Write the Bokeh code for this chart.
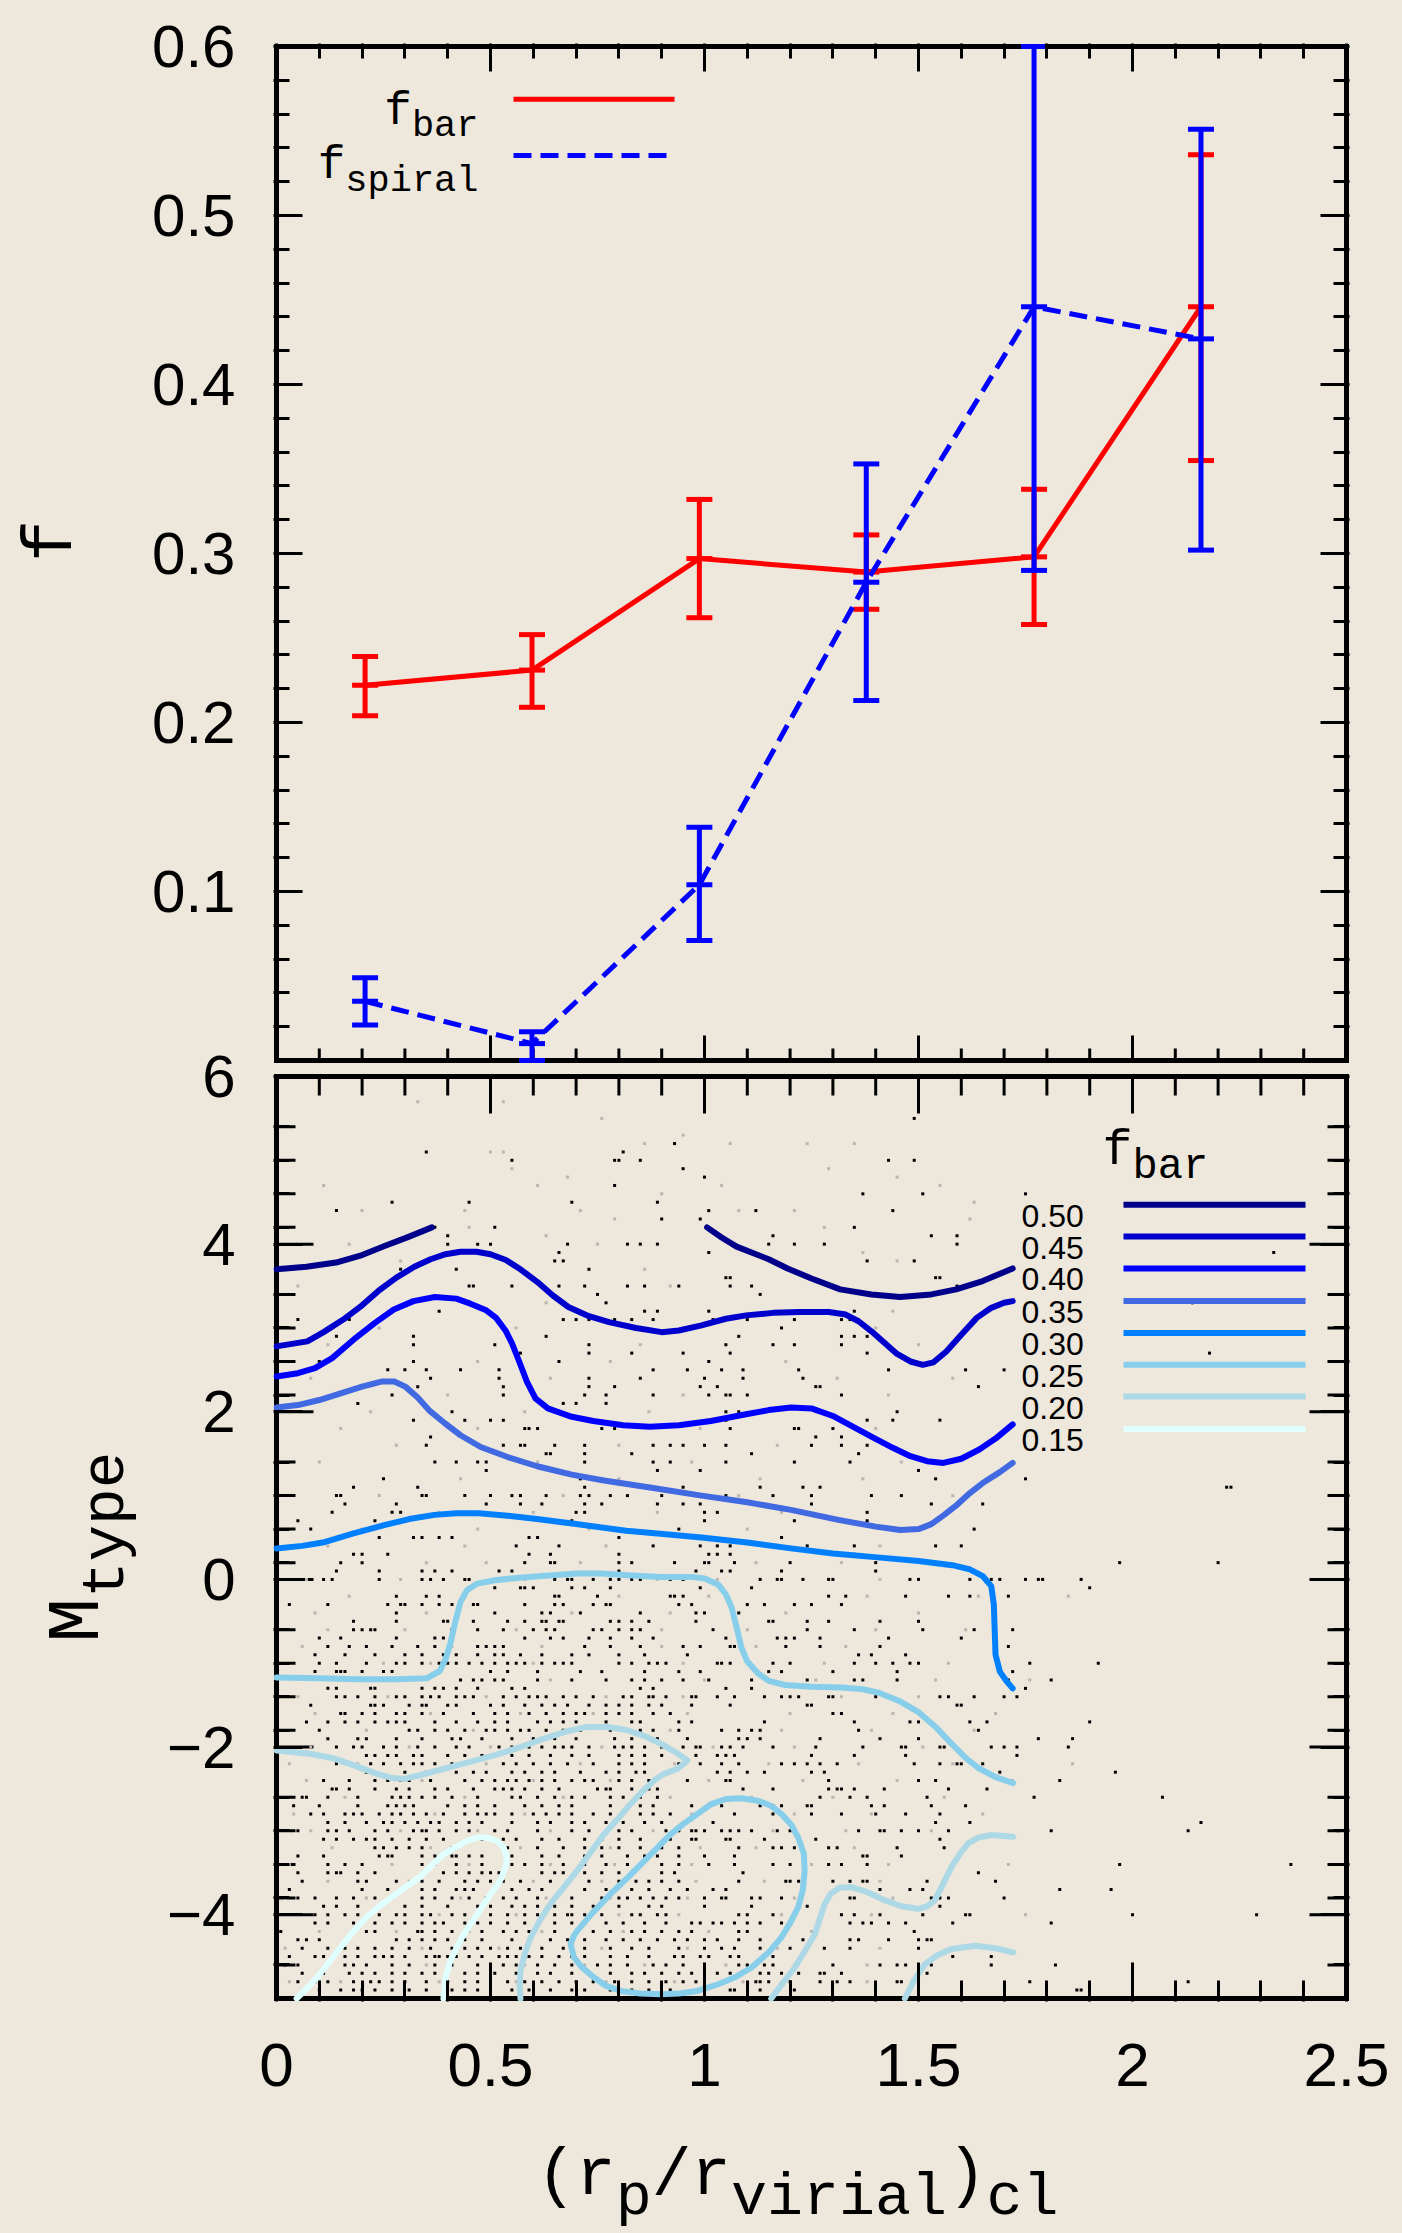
import math
from bokeh.plotting import figure
from bokeh.layouts import row, column
from bokeh.models import Range1d, LinearAxis, FixedTicker, CustomJSTickFormatter, Label
from bokeh.core.properties import value
from bokeh.embed import file_html
from bokeh.resources import INLINE

# ------------------------------------------------------------------ data
# top panel: fractions vs projected cluster-centric radius
R_BINS = [0.207, 0.597, 0.988, 1.378, 1.770, 2.160]
F_BAR = [0.222, 0.231, 0.297, 0.289, 0.298, 0.446]
F_BAR_LO = [0.204, 0.209, 0.262, 0.267, 0.258, 0.355]
F_BAR_HI = [0.239, 0.252, 0.332, 0.311, 0.338, 0.536]
F_SPIRAL = [0.035, 0.010, 0.104, 0.283, 0.446, 0.427]
F_SPIRAL_LO = [0.021, 0.000, 0.071, 0.213, 0.290, 0.302]
F_SPIRAL_HI = [0.049, 0.017, 0.138, 0.353, 0.600, 0.551]

TOP_Y_TICKS = [0.1, 0.2, 0.3, 0.4, 0.5, 0.6]
TOP_Y_LABELS = ["0.1", "0.2", "0.3", "0.4", "0.5", "0.6"]
BOT_Y_TICKS = [-4, -2, 0, 2, 4, 6]
BOT_Y_LABELS = ["\u22124", "\u22122", "0", "2", "4", "6"]
X_TICKS = [0, 0.5, 1, 1.5, 2, 2.5]
X_LABELS = ["0", "0.5", "1", "1.5", "2", "2.5"]

# bottom panel: f_bar contours in the (r, M_type) plane
LEVELS = ["0.50", "0.45", "0.40", "0.35", "0.30", "0.25", "0.20", "0.15"]
LEVEL_COLORS = ["#00008B", "#0000CD", "#0000FF", "#4169E1", "#0080FF", "#87CEEB", "#ADD8E6", "#E0FFFF"]
CONTOURS = {
    "0.50": [
        [(0.000, 3.70), (0.070, 3.73), (0.139, 3.78), (0.200, 3.87), (0.254, 3.98), (0.310, 4.09), (0.363, 4.20)],
        [(1.006, 4.20), (1.040, 4.08), (1.075, 3.97), (1.150, 3.82), (1.194, 3.71), (1.250, 3.59), (1.317, 3.46),
         (1.390, 3.40), (1.457, 3.37), (1.530, 3.40), (1.588, 3.46), (1.650, 3.56), (1.720, 3.71)],
    ],
    "0.45": [
        [(0.000, 2.78), (0.072, 2.84), (0.110, 2.95), (0.156, 3.10), (0.200, 3.27), (0.240, 3.45), (0.280, 3.60),
         (0.322, 3.73), (0.360, 3.82), (0.395, 3.88), (0.430, 3.91), (0.467, 3.91), (0.500, 3.88), (0.536, 3.81),
         (0.570, 3.70), (0.609, 3.55), (0.645, 3.39), (0.682, 3.25), (0.730, 3.14), (0.777, 3.07), (0.840, 3.00),
         (0.900, 2.95), (0.940, 2.97), (0.993, 3.03), (1.050, 3.11), (1.097, 3.15), (1.160, 3.18), (1.223, 3.19),
         (1.290, 3.19), (1.330, 3.16), (1.360, 3.08), (1.390, 2.96), (1.421, 2.82), (1.450, 2.69), (1.481, 2.60),
         (1.510, 2.56), (1.535, 2.59), (1.565, 2.72), (1.600, 2.92), (1.636, 3.12), (1.670, 3.24), (1.700, 3.30),
         (1.720, 3.32)],
    ],
    "0.40": [
        [(0.000, 2.42), (0.050, 2.46), (0.090, 2.52), (0.130, 2.64), (0.180, 2.86), (0.230, 3.06), (0.274, 3.22),
         (0.320, 3.32), (0.370, 3.37), (0.420, 3.35), (0.453, 3.29), (0.490, 3.21), (0.513, 3.12), (0.535, 2.97),
         (0.550, 2.82), (0.567, 2.60), (0.585, 2.36), (0.605, 2.16), (0.634, 2.04), (0.690, 1.94), (0.740, 1.89),
         (0.810, 1.84), (0.872, 1.82), (0.940, 1.84), (1.015, 1.89), (1.097, 1.97), (1.150, 2.02), (1.202, 2.05),
         (1.250, 2.04), (1.300, 1.95), (1.340, 1.84), (1.391, 1.70), (1.440, 1.57), (1.481, 1.47), (1.520, 1.41),
         (1.558, 1.39), (1.600, 1.44), (1.642, 1.55), (1.680, 1.68), (1.720, 1.85)],
    ],
    "0.35": [
        [(0.000, 2.05), (0.050, 2.08), (0.100, 2.14), (0.150, 2.22), (0.200, 2.30), (0.245, 2.36), (0.275, 2.36),
         (0.301, 2.30), (0.330, 2.17), (0.358, 2.01), (0.394, 1.86), (0.430, 1.72), (0.477, 1.58), (0.540, 1.46),
         (0.609, 1.35), (0.690, 1.25), (0.765, 1.18), (0.880, 1.09), (0.993, 1.00), (1.100, 0.92), (1.202, 0.83),
         (1.313, 0.71), (1.400, 0.63), (1.457, 0.59), (1.500, 0.60), (1.530, 0.66), (1.560, 0.77), (1.590, 0.89),
         (1.620, 1.03), (1.650, 1.15), (1.690, 1.28), (1.720, 1.39)],
    ],
    "0.30": [
        [(0.000, 0.37), (0.060, 0.40), (0.108, 0.44), (0.180, 0.55), (0.254, 0.65), (0.310, 0.72), (0.369, 0.77),
         (0.420, 0.79), (0.473, 0.79), (0.540, 0.76), (0.609, 0.72), (0.700, 0.66), (0.817, 0.58), (0.910, 0.54),
         (0.993, 0.50), (1.100, 0.44), (1.202, 0.37), (1.300, 0.31), (1.411, 0.26), (1.500, 0.22), (1.579, 0.17),
         (1.620, 0.12), (1.650, 0.04), (1.670, -0.08), (1.676, -0.30), (1.678, -0.60), (1.680, -0.90),
         (1.690, -1.10), (1.705, -1.21), (1.720, -1.30)],
    ],
    "0.25": [
        [(0.000, -1.17), (0.100, -1.18), (0.191, -1.19), (0.280, -1.19), (0.351, -1.18), (0.382, -1.09),
         (0.395, -0.95), (0.406, -0.77), (0.418, -0.50), (0.430, -0.27), (0.445, -0.13), (0.469, -0.05),
         (0.510, -0.01), (0.547, 0.01), (0.620, 0.04), (0.703, 0.07), (0.760, 0.07), (0.820, 0.05), (0.900, 0.03),
         (0.969, 0.03), (1.000, 0.01), (1.032, -0.06), (1.050, -0.18), (1.063, -0.33), (1.075, -0.57),
         (1.086, -0.81), (1.100, -0.98), (1.125, -1.12), (1.150, -1.21), (1.188, -1.26), (1.250, -1.28),
         (1.320, -1.29), (1.370, -1.31), (1.406, -1.35), (1.455, -1.45), (1.499, -1.58), (1.540, -1.76),
         (1.577, -1.96), (1.610, -2.13), (1.640, -2.25), (1.680, -2.36), (1.721, -2.43)],
        [(0.983, -2.80), (1.016, -2.68), (1.050, -2.62), (1.086, -2.61), (1.125, -2.64), (1.155, -2.70),
         (1.180, -2.80), (1.203, -2.93), (1.219, -3.08), (1.232, -3.27), (1.234, -3.47), (1.230, -3.70),
         (1.219, -3.91), (1.200, -4.10), (1.180, -4.27), (1.150, -4.45), (1.110, -4.63), (1.070, -4.75),
         (1.032, -4.83), (0.983, -4.91), (0.940, -4.94), (0.898, -4.95), (0.850, -4.94), (0.804, -4.91),
         (0.770, -4.85), (0.742, -4.75), (0.712, -4.62), (0.695, -4.51), (0.687, -4.35), (0.695, -4.25),
         (0.703, -4.19), (0.740, -3.97), (0.781, -3.75), (0.820, -3.56), (0.859, -3.36), (0.890, -3.20),
         (0.921, -3.04), (0.950, -2.92), (0.983, -2.80)],
    ],
    "0.20": [
        [(0.000, -2.04), (0.078, -2.08), (0.130, -2.13), (0.171, -2.20), (0.235, -2.32), (0.270, -2.37),
         (0.298, -2.38), (0.340, -2.33), (0.390, -2.26), (0.450, -2.18), (0.508, -2.10), (0.570, -2.00),
         (0.625, -1.90), (0.680, -1.81), (0.726, -1.76), (0.775, -1.76), (0.820, -1.80), (0.860, -1.87),
         (0.898, -1.96), (0.935, -2.07), (0.960, -2.16), (0.937, -2.26), (0.905, -2.32), (0.882, -2.40),
         (0.855, -2.53), (0.827, -2.68), (0.797, -2.86), (0.765, -3.04), (0.735, -3.25), (0.703, -3.47),
         (0.670, -3.68), (0.640, -3.87), (0.615, -4.07), (0.594, -4.27), (0.580, -4.47), (0.570, -4.67),
         (0.568, -4.85), (0.570, -5.00)],
        [(1.156, -5.00), (1.185, -4.80), (1.211, -4.63), (1.235, -4.43), (1.258, -4.23), (1.270, -4.04),
         (1.281, -3.87), (1.295, -3.75), (1.315, -3.68), (1.343, -3.67), (1.380, -3.73), (1.422, -3.83),
         (1.460, -3.90), (1.499, -3.93), (1.520, -3.90), (1.538, -3.83), (1.555, -3.66), (1.577, -3.43),
         (1.600, -3.25), (1.616, -3.15), (1.640, -3.08), (1.671, -3.05), (1.721, -3.07)],
        [(1.468, -5.00), (1.490, -4.78), (1.515, -4.59), (1.545, -4.48), (1.577, -4.41), (1.632, -4.37),
         (1.680, -4.40), (1.721, -4.45)],
    ],
    "0.15": [
        [(0.047, -5.00), (0.075, -4.86), (0.101, -4.71), (0.130, -4.52), (0.156, -4.35), (0.185, -4.17),
         (0.210, -4.03), (0.245, -3.88), (0.280, -3.75), (0.335, -3.55), (0.390, -3.28), (0.420, -3.19),
         (0.445, -3.12), (0.470, -3.08), (0.491, -3.08), (0.515, -3.12), (0.531, -3.20), (0.538, -3.32),
         (0.535, -3.43), (0.523, -3.59), (0.505, -3.72), (0.485, -3.87), (0.462, -4.05), (0.438, -4.23),
         (0.420, -4.40), (0.406, -4.55), (0.395, -4.75), (0.390, -5.00)],
    ],
}

# galaxies in the (r, M_type) plane: M_type row -> r values in hundredths
BLACK_DOTS = {
    5.5: "149", 5.2: "93", 5.1: "35 81", 5.0: "55 79 80 85 143 149", 4.9: "95", 4.8: "100", 4.7: "79",
    4.6: "137 151 175", 4.5: "27 45 69 89", 4.4: "14 101 112 144", 4.3: "90 99", 4.2: "37 51 135",
    4.1: "40 116 153 159", 4.0: "40 47 50 68 82 85 89 115 121 128 159", 3.9: "66 101 233", 3.8: "65 67 138 149",
    3.7: "29 42 73", 3.6: "105 106 154 155", 3.5: "45 46 55 66 72 82 86 94 106 111 159", 3.4: "75 113",
    3.3: "77 214", 3.2: "38 86 89 101 135", 3.1: "5 17 67 70 73 79 83 88 102 110 121 132 134", 3.0: "118",
    2.9: "14 32 63 108 132 135 138", 2.8: "32 51 73 105 116 121 132", 2.7: "57 73 83 95 106 138 218",
    2.6: "10 32 66 101", 2.5: "26 30 35 43 52 88 96 104 109 122 143 161 170", 2.4: "36 52 73 85 100 109 123",
    2.3: "33 53 73 79 99 103 126 127 164", 2.2: "27 53 72 77 88 101 105 106 110 132", 2.1: "19 67 70 77",
    2.0: "41 105 108 145", 1.9: "32 44 50 53 101 105 138 144 155", 1.8: "58 59 61 76 79 106 121 122 130",
    1.7: "36 126 132", 1.6: "35 53 57 58 65 72 88 92 95 100 105 125 132 138", 1.5: "63 64 72 83 111 136",
    1.4: "37 42 47 49 72 88 92 105 121 134", 1.3: "49 89 99 150", 1.2: "25 71 154 175",
    1.1: "18 33 72 88 95 113 123 127 222 223",
    1.0: "14 15 34 35 44 50 55 57 63 71 73 78 82 90 98 105 116 125 139 146",
    0.9: "16 28 49 57 62 72 76 89 95 99 125 153 165", 0.8: "13 27 29 70 72 100 103 138",
    0.7: "5 23 69 100 121 138", 0.6: "8 94 163", 0.5: "24 32 34 38 41 59 61 80 118",
    0.4: "56 66 88 99 103 106 124 135 154 160", 0.3: "18 20 26 59 64 80 101 103 106 135",
    0.2: "15 20 58 64 65 80 83 93 100 101 107 120 140 197 220",
    0.1: "14 24 34 37 41 52 55 80 98 104 106 118 140",
    0.0: "11 13 24 34 36 39 44 45 52 54 65 68 69 74 78 80 83 85 92 95 113 117 118 123 129 130 148 150 162 167 169 175 178 179 188",
    -0.1: "51 57 58 60 69 72 78 99 111 190",
    -0.2: "28 35 38 65 66 75 92 93 95 129 133 147 157 162 171",
    -0.3: "3 12 26 29 30 34 38 41 46 47 58 65 67 74 77 78 94 97 110 114 121 125 132",
    -0.4: "28 51 62 64 71 85 98 100 108",
    -0.5: "18 28 39 40 46 54 58 62 63 66 67 78 80 83 87 98 115 116 124 129 141 150",
    -0.6: "18 20 22 23 41 47 53 60 63 65 74 76 80 83 85 102 124 135 151 163 172",
    -0.7: "10 15 28 37 39 58 64 67 73 78 83 88 105 117 119 121 127 143 160",
    -0.8: "12 17 21 27 33 37 47 49 51 53 72 78 85 95 99 106 107 119 127 141 171",
    -0.9: "9 16 23 30 34 39 42 47 51 53 57 62 69 73 80 86 96 136 139 147",
    -1.0: "10 14 21 28 30 34 38 40 42 45 48 51 54 56 58 62 65 67 69 80 83 87 89 91 103 104 106 116 120 135 140 144 148 150 176 192",
    -1.1: "9 14 15 16 20 25 27 50 54 61 71 76 86 94 99 115 118 130 145 172",
    -1.2: "43 46 48 51 53 61 69 77 83 86 90 95 101 111 124 135 137 145 171 181",
    -1.3: "12 14 22 23 34 37 39 42 47 55 58 85 88 105 111 175",
    -1.4: "14 16 19 23 28 30 34 36 38 42 44 46 53 56 59 61 63 67 70 74 81 83 87 88 91 97 98 103 107 114 118 120 122 129 130 140 155 157 163 170 173",
    -1.5: "8 22 23 25 31 34 35 40 42 50 53 58 62 65 68 73 77 80 83 87 90 97 106 124 125 159 160",
    -1.6: "15 16 20 23 28 30 34 39 46 51 54 59 63 67 70 72 77 80 83 88 92 130 132",
    -1.7: "7 12 16 19 23 26 28 30 37 42 47 51 54 61 64 67 70 77 83 85 94 97 114 135 148 150 162 166 190",
    -1.8: "10 31 33 37 40 44 49 51 54 57 59 63 67 71 78 81 85 88 94 104 108 111 113 136 164",
    -1.9: "12 19 21 28 34 41 43 48 55 60 65 70 79 83 87 89 96 108 110 113 127 141 150 178 186",
    -2.0: "14 18 20 25 28 33 37 42 45 52 55 59 62 65 67 69 73 79 81 83 86 90 95 98 99 104 106 109 116 126 137 146 147 155 156 167 170 173 185",
    -2.1: "21 23 26 28 32 34 40 44 48 55 59 64 69 73 80 83 86 90 98 103 105 107 125 135 147 173",
    -2.2: "14 22 25 29 32 34 37 41 44 53 56 60 64 68 74 80 83 86 94 99 104 108 118 121 124 127 131 149 155 159 160 165",
    -2.3: "21 30 35 42 46 49 55 58 62 65 71 77 80 84 86 103 106 110 114 125 128 169 196",
    -2.4: "11 17 23 26 29 31 36 44 48 51 54 56 59 62 65 69 72 74 80 83 87 96 105 106 129 150 154 183",
    -2.5: "13 14 17 23 28 31 37 40 46 51 53 55 58 62 66 75 77 78 83 87 89 109 116 129 131 132 135 142 157 166",
    -2.6: "6 7 12 19 27 29 31 34 37 41 47 55 57 61 65 69 72 78 81 85 89 127 134 138 152 177 207",
    -2.7: "4 10 19 26 28 30 32 40 44 47 51 58 62 66 69 78 82 85 88 97 104 113 116 118 124 125 139 142 153 161",
    -2.8: "8 11 16 18 20 24 27 29 32 35 39 44 47 49 51 55 60 63 66 69 74 78 85 88 92 107 116 125 132 140 147 155",
    -2.9: "12 16 21 25 27 30 33 36 38 42 45 48 55 61 64 69 72 77 81 86 90 102 154 162 216",
    -3.0: "5 12 14 17 23 26 32 34 35 38 42 45 51 54 61 69 73 80 83 91 94 97 98 100 104 106 108 111 117 120 136 141 142 146 150 157 181 213 248",
    -3.1: "11 14 18 21 23 27 31 35 39 48 53 56 62 66 72 76 80 85 92 97 98 105 106 114 126 155",
    -3.2: "23 25 28 31 34 41 42 54 61 67 72 76 80 85 90 94 108 116 118 121 129 131 145 156",
    -3.3: "5 11 24 26 27 34 37 41 42 45 48 55 62 66 72 76 82 86 89 94 100 107 137 138 146",
    -3.4: "12 16 20 34 37 42 48 55 58 62 67 72 77 82 85 90 94 101 107 116 120 129 132 138 197 237",
    -3.5: "5 12 14 15 19 23 39 42 45 48 50 52 62 65 67 72 76 80 83 90 93 109 164",
    -3.6: "6 19 21 28 34 38 44 47 50 53 57 64 68 73 80 84 87 90 94 108 119 120 122 130 134 137 138 152 168",
    -3.7: "3 20 26 34 37 42 44 46 51 55 59 62 72 77 83 87 92 96 102 105 141 148 151 183 195",
    -3.8: "5 9 14 18 23 27 34 37 41 45 49 53 56 61 65 69 76 80 82 85 88 91 94 100 104 105 111 113 118 134 135 153 155 157 170",
    -3.9: "11 14 19 24 30 34 40 47 50 55 58 61 65 69 74 80 87 90 100 111 124 155",
    -4.0: "9 12 16 19 24 28 30 34 36 41 44 47 50 54 58 61 65 68 69 72 76 83 85 89 91 108 110 116 132 135 141 151 161 162 200 229",
    -4.1: "9 12 18 23 27 30 34 37 39 44 47 50 54 58 61 65 69 72 77 81 86 91 97 99 102 104 107 110 113 118 134 137 139 143 147 158 181",
    -4.2: "1 21 23 33 34 37 41 44 48 53 56 59 65 70 74 78 83 86 90 94 97 108 110 149",
    -4.3: "5 7 10 28 31 34 37 40 44 48 55 59 64 68 72 77 81 85 89 93 96 100 103 108 113 123 134 136 143 150 152 153",
    -4.4: "6 12 16 19 23 27 31 36 41 44 47 50 54 57 62 67 72 78 83 87 94 100 104 107 113 120 128 134 150",
    -4.5: "3 9 11 16 19 23 25 27 30 35 37 38 40 42 45 48 52 54 56 59 62 66 69 72 78 82 87 93 95 99 101 106 108 116 158 167",
    -4.6: "2 5 16 18 21 27 31 37 41 47 50 53 56 61 65 69 75 78 82 88 91 95 108 110 114 116 130 141 145 147 153 167 182",
    -4.7: "6 11 17 20 23 27 30 34 37 44 47 51 56 61 64 69 73 78 83 86 90 94 97 103 106 113 115 118 122 127 128 132 152",
    -4.8: "5 9 12 18 22 24 27 30 35 40 44 47 50 54 58 62 66 70 74 79 83 87 91 95 98 112 113 115 120 127 131 134 145 146 176 213",
    -4.9: "10 15 18 20 23 27 31 35 41 44 47 50 55 59 64 69 72 78 83 87 92 106 107 113 121 187 188",
}
GRAY_DOTS = {
    5.7: "33 53", 5.5: "76", 5.3: "95", 5.2: "86 106 124 135", 5.1: "50 53", 4.9: "55 129", 4.8: "68 145",
    4.7: "11 61 104 155", 4.6: "90", 4.5: "163", 4.4: "20 44 71 108 121", 4.3: "79 162", 4.2: "45 128",
    4.1: "63", 4.0: "17 75", 3.9: "137", 3.8: "29 145", 3.7: "86", 3.5: "5 92", 3.3: "21 63", 3.2: "144",
    3.0: "24 56 97 140", 2.8: "12 85 150", 2.6: "47 78 119", 2.4: "8 64 131 158", 2.2: "40 95 143",
    2.0: "22 58 87 126", 1.8: "15 47 99 140", 1.6: "28 80 117", 1.4: "10 61 97 146", 1.2: "43 80 113 137",
    1.0: "24 67 108 158", 0.8: "38 60 89 118", 0.6: "20 47 73 110 146", 0.4: "12 44 77 114 141",
    0.2: "35 49 71 112 132", 0.0: "7 29 58 89 103 141", -0.2: "17 44 80 101 138 164 185",
    -0.4: "9 35 69 92 119 150", -0.6: "12 30 56 90 110 140 161", -0.8: "6 41 62 90 112 133",
    -1.0: "25 36 60 95 128 157", -1.2: "18 32 64 100 126 154 176", -1.4: "5 26 49 77 95 132 150",
    -1.6: "9 36 57 74 96 120 144 168", -1.8: "21 46 69 92 118 139 163", -2.0: "8 31 50 76 102 121 151",
    -2.2: "3 19 49 71 93 115 136 158 186", -2.4: "7 34 60 78 101 123 145 172", -2.6: "16 44 67 92 111 130 156",
    -2.8: "4 37 58 81 97 121 139 165", -3.0: "8 29 47 64 88 116 133 153", -3.2: "13 36 57 78 99 112 135 161",
    -3.4: "3 27 45 64 79 97 125 143 171", -3.6: "12 31 60 76 98 114 141", -3.8: "2 21 43 63 78 96 121 144",
    -4.0: "5 22 38 56 80 94 118 139 175", -4.2: "10 28 45 62 81 101 125", -4.4: "2 34 52 76 96 117 141",
    -4.6: "12 35 58 72 86 105 121 138", -4.8: "3 15 38 56 77 93 109 138",
}

# ------------------------------------------------------------------ layout (page pixels)
W, H = 1402, 2233
BG = "#EDE7DC"
LW = 145                      # left strip holding the y titles
HM = 2115                     # height of the main figure; below it a strip for the x title
FL, FR = 276, 1346            # panel left / right edges
TT, TB = 46, 1060             # top panel top / bottom
BT, BB = 1076, 1998           # bottom panel top / bottom
PAD = 3
X0, X1 = 0.0, 2.5
T0, T1 = 0.0, 0.6
B0, B1 = -5.0, 6.0
SANS = "Liberation Sans"
MONO = "Liberation Mono"

sx = (X1 - X0) / (FR - FL)
st = (T1 - T0) / (TB - TT)
sb = (B1 - B0) / (BB - BT)


def dx(px):
    return X0 + (px - FL) * sx


def db(py):
    return B0 + (BB - py) * sb


def dt(py):
    return T0 + (TB - py) * st


def t2b(v):
    return db(TB - (v - T0) / st)


p = figure(width=W - LW, height=HM,
           x_range=Range1d(dx(FL - PAD), dx(FR + PAD)),
           y_range=Range1d(db(BB + PAD), db(TT - PAD)),
           output_backend="svg", toolbar_location=None,
           x_axis_location=None, y_axis_location=None,
           min_border_left=FL - PAD - LW, min_border_right=W - FR - PAD,
           min_border_top=TT - PAD, min_border_bottom=HM - BB - PAD,
           background_fill_color=BG, border_fill_color=BG, outline_line_color=None)
p.extra_y_ranges = {"top": Range1d(dt(BB + PAD), dt(TT - PAD))}
p.xgrid.visible = False
p.ygrid.visible = False


def fmt(values, labels):
    return CustomJSTickFormatter(args=dict(tv=list(values), tl=list(labels)), code="""
        let best = -1, err = 1e-6;
        for (let i = 0; i < tv.length; i++) {
            const e = Math.abs(tv[i] - tick);
            if (e < err) { err = e; best = i; }
        }
        return best >= 0 ? tl[best] : "";
    """)


def axis(ticks, minor, tick_in, minor_in, labels=None, size="1px", standoff=0):
    ax = LinearAxis(ticker=FixedTicker(ticks=list(ticks), minor_ticks=list(minor)))
    ax.axis_line_color = None
    ax.major_tick_in, ax.major_tick_out = tick_in, 0
    ax.minor_tick_in, ax.minor_tick_out = minor_in, 0
    ax.major_tick_line_width = 3
    ax.minor_tick_line_width = 3
    ax.major_tick_line_color = "black"
    ax.minor_tick_line_color = "black"
    ax.formatter = fmt(ticks, labels if labels else [""] * len(ticks))
    ax.major_label_text_font = SANS
    ax.major_label_text_font_size = size
    ax.major_label_text_color = "black"
    ax.major_label_standoff = standoff
    return ax


top_minor = [k / 50 for k in range(1, 30) if k % 5]
bot_minor = [-5 + 0.4 * k for k in range(1, 28) if k % 5 != 2]
x_minor = [k / 10 for k in range(1, 25) if k % 5]

y_major = [t2b(v) for v in TOP_Y_TICKS] + BOT_Y_TICKS
y_labels = TOP_Y_LABELS + BOT_Y_LABELS
y_minor = [t2b(v) for v in top_minor] + bot_minor

p.add_layout(axis(y_major, y_minor, 29, 16, y_labels, "60px", 38), "left")
p.add_layout(axis(y_major, y_minor, 29, 16), "right")
p.add_layout(axis(X_TICKS, x_minor, 39, 21, X_LABELS, "62px", 42), "below")
p.add_layout(axis(X_TICKS, x_minor, 28, 15), "above")

# panel frames
p.quad(left=[X0], right=[X1], bottom=[T0], top=[T1], y_range_name="top",
       fill_color=None, line_color="black", line_width=5, line_join="miter")
p.quad(left=[X0], right=[X1], bottom=[B0], top=[B1],
       fill_color=None, line_color="black", line_width=5, line_join="miter")

# inner ticks that no axis can carry (panel edges facing the gap, longer bottom-panel ticks)
inner_x_major = X_TICKS[1:-1]
p.segment(x0=inner_x_major, x1=inner_x_major, y0=[T0] * 4, y1=[dt(TB - 25)] * 4, y_range_name="top",
          line_color="black", line_width=3)
p.segment(x0=x_minor, x1=x_minor, y0=[T0] * len(x_minor), y1=[dt(TB - 12)] * len(x_minor),
          y_range_name="top", line_color="black", line_width=3)
p.segment(x0=inner_x_major, x1=inner_x_major, y0=[B1] * 4, y1=[db(BT + 37)] * 4,
          line_color="black", line_width=3)
p.segment(x0=x_minor, x1=x_minor, y0=[B1] * len(x_minor), y1=[db(BT + 19)] * len(x_minor),
          line_color="black", line_width=3)
bmaj = BOT_Y_TICKS[:-1]
for edge, inward in ((X0, 1), (X1, -1)):
    p.segment(x0=[edge] * len(bmaj), x1=[edge + inward * 37 * sx] * len(bmaj), y0=bmaj, y1=bmaj,
              line_color="black", line_width=3)
    p.segment(x0=[edge] * len(bot_minor), x1=[edge + inward * 19 * sx] * len(bot_minor),
              y0=bot_minor, y1=bot_minor, line_color="black", line_width=3)


# ------------------------------------------------------------------ bottom panel content
def rows(d):
    xs, ys = [], []
    for m, s in d.items():
        for tok in s.split():
            xs.append(int(tok) / 100)
            ys.append(m)
    return xs, ys


gx, gy = rows(GRAY_DOTS)
p.scatter(gx, gy, marker="square", size=3, fill_color="#b9b6b0", line_color=None)
kx, ky = rows(BLACK_DOTS)
p.scatter(kx, ky, marker="square", size=3, fill_color="black", line_color=None)

for lev, col in zip(LEVELS, LEVEL_COLORS):
    for piece in CONTOURS[lev]:
        p.line([q[0] for q in piece], [q[1] for q in piece], line_color=col, line_width=6,
               line_join="round", line_cap="round")

# ------------------------------------------------------------------ top panel content
p.line(R_BINS, F_BAR, line_color="red", line_width=5, y_range_name="top")
p.segment(x0=R_BINS, x1=R_BINS, y0=F_BAR_LO, y1=F_BAR_HI, line_color="red", line_width=5, y_range_name="top")
for ys in (F_BAR_LO, F_BAR_HI, F_BAR):
    p.scatter(R_BINS, ys, marker="dash", size=26, line_color="red", line_width=5, y_range_name="top")

p.line(R_BINS, F_SPIRAL, line_color="blue", line_width=5, line_dash="18 9", y_range_name="top")
p.segment(x0=R_BINS, x1=R_BINS, y0=F_SPIRAL_LO, y1=F_SPIRAL_HI, line_color="blue", line_width=5,
          y_range_name="top")
for ys in (F_SPIRAL_LO, F_SPIRAL_HI, F_SPIRAL):
    p.scatter(R_BINS, ys, marker="dash", size=26, line_color="blue", line_width=5, y_range_name="top")


# ------------------------------------------------------------------ texts inside the panels
def lab(text, px, py, size, font=MONO, align="left", baseline="alphabetic"):
    p.add_layout(Label(x=dx(px), y=db(py), text=text, text_font=font, text_font_size=f"{size}px",
                       text_align=align, text_baseline=baseline, text_color="black"))


def sub_text(parts, px, base_main, base_sub, main, sub):
    pos = px
    for text, is_sub in parts:
        size = sub if is_sub else main
        lab(text, pos, base_sub if is_sub else base_main, size)
        pos += 0.6 * size * len(text)


# top legend
p.segment(x0=[dx(513)], x1=[dx(674)], y0=[db(98.7)], y1=[db(98.7)], line_color="red", line_width=5)
p.segment(x0=[dx(513)], x1=[dx(674)], y0=[db(155)], y1=[db(155)], line_color="blue", line_width=5,
          line_dash="18 9")
sub_text([("f", False), ("bar", True)], 478 - 0.6 * 46 - 3 * 0.6 * 37, 111, 125.5, 46, 37)
sub_text([("f", False), ("spiral", True)], 478 - 0.6 * 46 - 6 * 0.6 * 37, 165, 180, 46, 37)

# bottom legend
sub_text([("f", False), ("bar", True)], 1102, 1150, 1166.7, 50, 42)
LEG_TEXT_Y = [1215.3, 1247.1, 1278.9, 1311.4, 1343.5, 1375.3, 1407.1, 1439.6]
for lev, col, ty in zip(LEVELS, LEVEL_COLORS, LEG_TEXT_Y):
    lab(lev, 1021, ty, 32, font=SANS, baseline="middle")
    p.segment(x0=[dx(1123)], x1=[dx(1305)], y0=[db(ty - 11)], y1=[db(ty - 11)], line_color=col, line_width=6)


# ------------------------------------------------------------------ axis titles (strip figures)
def strip(width, height, top=0, bottom=0):
    """y data = height - page_y (relative to the strip's own top); the frame may be inset"""
    f = figure(width=width, height=height, x_range=Range1d(0, width),
               y_range=Range1d(bottom, height - top),
               output_backend="svg", toolbar_location=None, x_axis_location=None, y_axis_location=None,
               min_border=0, min_border_left=0, min_border_right=0, min_border_top=top,
               min_border_bottom=bottom,
               background_fill_color=BG, border_fill_color=BG, outline_line_color=None)
    f.xgrid.visible = False
    f.ygrid.visible = False
    return f


def vtext(f, text, base_x, start_y, size):
    """text rotated to read upwards; baseline at page x = base_x, starting at page y = start_y"""
    adv = 0.6 * size * len(text)
    f.text(x=[base_x - 0.25 * size], y=[f.height - (start_y - adv / 2)], text=[text], angle=math.pi / 2,
           text_font=value(MONO), text_font_size=value(f"{size}px"),
           text_align="center", text_baseline="middle", text_color="black")
    return start_y - adv


def htext(f, top_px, text, start_x, base_y, size):
    f.text(x=[start_x], y=[f.height - (base_y - top_px)], text=[text],
           text_font=value(MONO), text_font_size=value(f"{size}px"),
           text_align="left", text_baseline="alphabetic", text_color="black")
    return start_x + 0.6 * size * len(text)


# the left strip's frame lines up with the main frame (row alignment), so inset it identically
left = strip(LW, HM, top=TT - PAD, bottom=HM - BB - PAD)
vtext(left, "f", 69, 551 + 0.3 * 70 / 2, 70)
y_next = vtext(left, "M", 96, 1642, 74)
vtext(left, "type", 121, y_next, 61)

bottom = strip(W, H - HM)
x_next = 536
for txt, is_sub in [("(r", False), ("p", True), ("/r", False), ("virial", True), (")", False), ("cl", True)]:
    x_next = htext(bottom, HM, txt, x_next, 2197 if is_sub else 2176, 60 if is_sub else 66)

layout = column(row(left, p, spacing=0, styles={"background-color": BG}), bottom, spacing=0,
                styles={"background-color": BG})
open("out.html", "w").write(file_html(layout, INLINE))
